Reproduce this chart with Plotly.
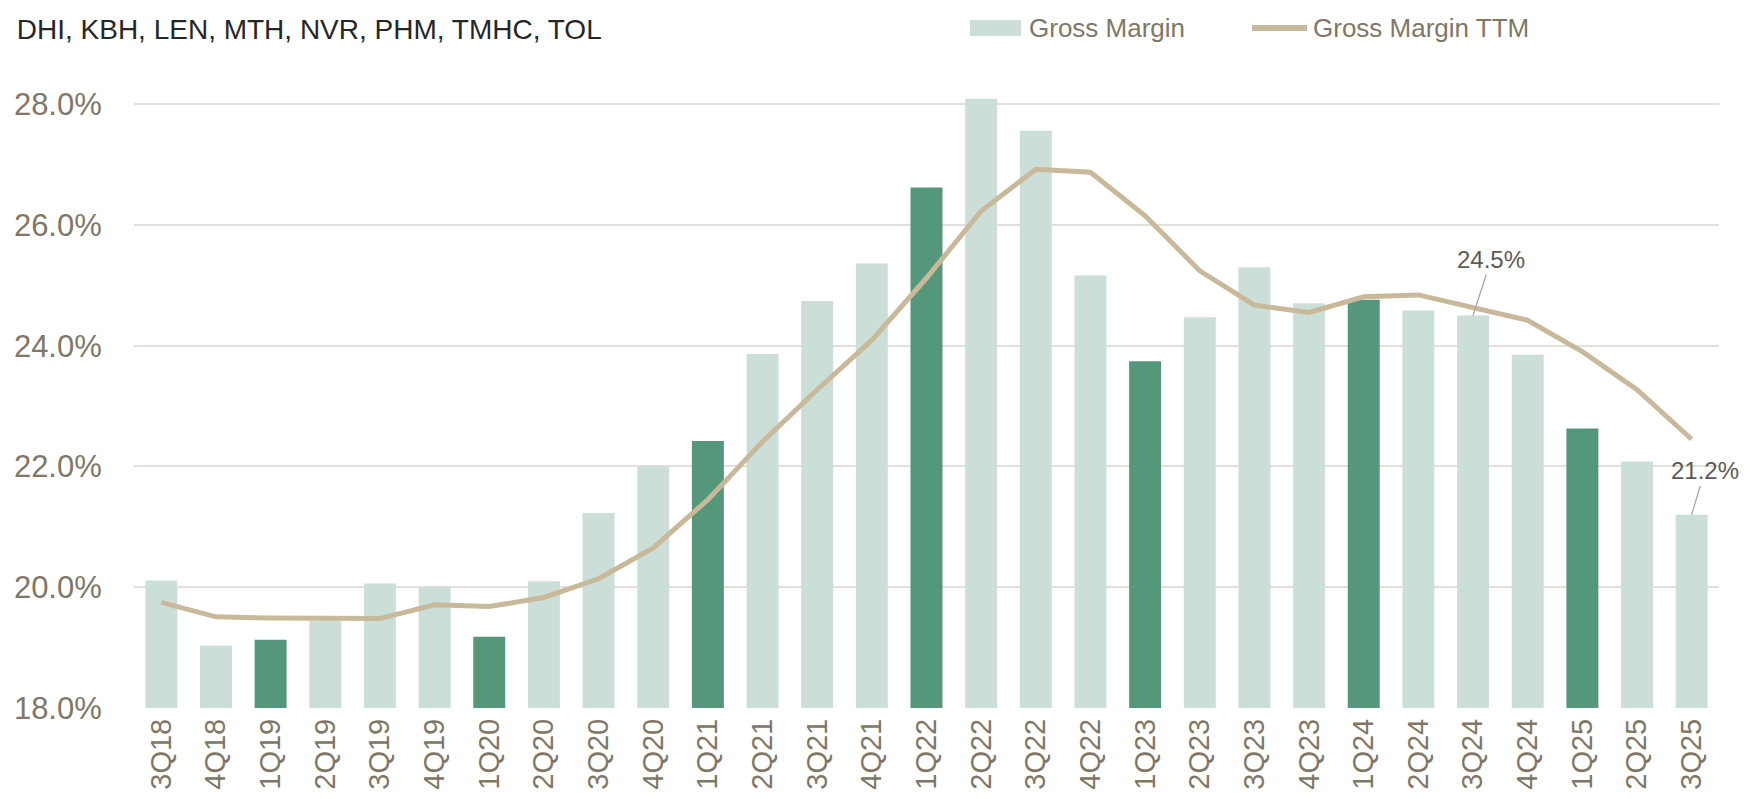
import plotly.graph_objects as go

# quarterly gross margin, builders group (values in %)
quarters = ["3Q18", "4Q18",
            "1Q19", "2Q19", "3Q19", "4Q19",
            "1Q20", "2Q20", "3Q20", "4Q20",
            "1Q21", "2Q21", "3Q21", "4Q21",
            "1Q22", "2Q22", "3Q22", "4Q22",
            "1Q23", "2Q23", "3Q23", "4Q23",
            "1Q24", "2Q24", "3Q24", "4Q24",
            "1Q25", "2Q25", "3Q25"]
gross_margin = [20.11, 19.03,
                19.13, 19.45, 20.06, 20.00,
                19.18, 20.10, 21.23, 22.00,
                22.42, 23.86, 24.74, 25.36,
                26.62, 28.09, 27.56, 25.16,
                23.74, 24.47, 25.30, 24.70,
                24.76, 24.58, 24.50, 23.85,
                22.63, 22.08, 21.20]
gross_margin_ttm = [19.75, 19.51,
                    19.49, 19.48, 19.48, 19.71,
                    19.68, 19.83, 20.14, 20.65,
                    21.45, 22.41, 23.27, 24.09,
                    25.12, 26.23, 26.92, 26.87,
                    26.15, 25.24, 24.67, 24.55,
                    24.81, 24.84, 24.63, 24.42,
                    23.90, 23.27, 22.45]
y_ticks = [18, 20, 22, 24, 26, 28]
y_tick_labels = [f"{v:.1f}%" for v in y_ticks]
labelled = ["3Q24", "3Q25"]

LIGHT = "#cbdfd8"
DARK = "#55977b"
TAN = "#c8b99b"
TAUPE = "#807767"
GRID = "#e3dfdb"
FONT = "Liberation Sans, Arial, sans-serif"

# first quarter of each year is highlighted
bar_colors = [DARK if q.startswith("1Q") else LIGHT for q in quarters]

fig = go.Figure()
fig.add_trace(go.Bar(x=quarters, y=gross_margin, name="Gross Margin",
                     marker=dict(color=bar_colors, line_width=0)))
fig.add_trace(go.Scatter(x=quarters, y=gross_margin_ttm, name="Gross Margin TTM",
                         mode="lines", line=dict(color=TAN, width=5)))

# callouts on selected bars
offsets = {"3Q24": (18, -56), "3Q25": (13, -44)}
for q in labelled:
    v = gross_margin[quarters.index(q)]
    fig.add_annotation(x=q, y=v, text=f"{v:.1f}%", showarrow=True,
                       arrowhead=0, arrowwidth=1.2, arrowcolor="#a6a39d",
                       ax=offsets[q][0], ay=offsets[q][1],
                       font=dict(family=FONT, size=24, color="#5f5a52"))

# hand-made legend (wide swatches like the original)
fig.add_shape(type="rect", xref="paper", yref="paper",
              x0=0.5274, x1=0.5596, y0=1.0909, y1=1.1169,
              fillcolor=LIGHT, line_width=0)
fig.add_shape(type="line", xref="paper", yref="paper",
              x0=0.7054, x1=0.7401, y0=1.1039, y1=1.1039,
              line=dict(color=TAN, width=6))
for x0, txt in [(0.5634, "Gross Margin"), (0.7426, "Gross Margin TTM")]:
    fig.add_annotation(xref="paper", yref="paper", x=x0, y=1.1039, text=txt,
                       showarrow=False, xanchor="left", yanchor="middle",
                       font=dict(family=FONT, size=26, color=TAUPE))

fig.update_layout(
    width=1750, height=799,
    plot_bgcolor="white", paper_bgcolor="white",
    margin=dict(l=126, r=39, t=84, b=99),
    bargap=0.415,
    showlegend=False,
    title=dict(text="DHI, KBH, LEN, MTH, NVR, PHM, TMHC, TOL",
               x=0.005, xanchor="left", y=0.974, yanchor="middle",
               font=dict(family=FONT, size=28, color="#262626")),
    xaxis=dict(range=[-0.5, 28.5], tickangle=-90, showgrid=False, automargin=False,
               ticks="", ticklabelstandoff=4,
               tickfont=dict(family=FONT, size=29, color=TAUPE),
               showline=False, zeroline=False),
    yaxis=dict(range=[18, 28.2], tickvals=y_ticks, ticktext=y_tick_labels,
               showgrid=True, gridcolor=GRID, gridwidth=1.5, zeroline=False,
               automargin=False,
               ticks="outside", ticklen=25, tickcolor="rgba(0,0,0,0)",
               tickfont=dict(family=FONT, size=31, color=TAUPE)),
)

fig.write_html("out.html")
